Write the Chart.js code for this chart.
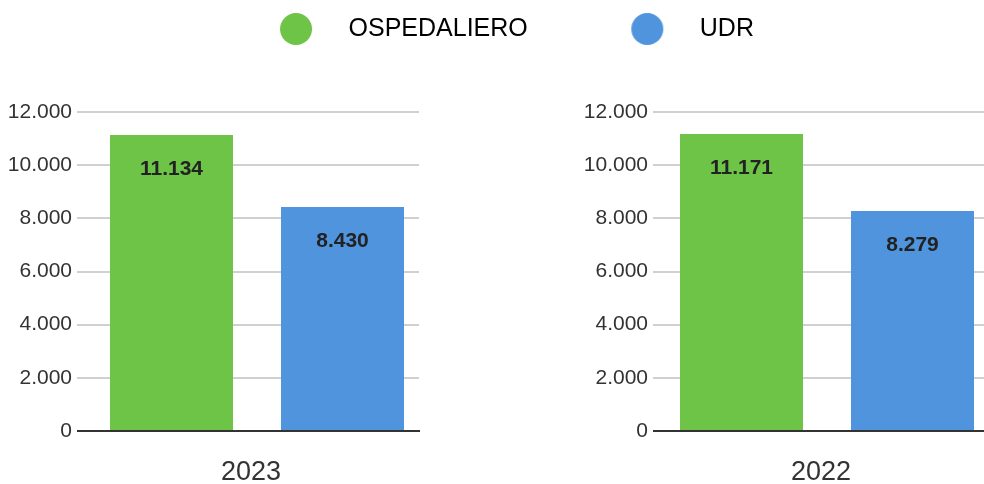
<!DOCTYPE html>
<html>
<head>
<meta charset="utf-8">
<script src="https://cdn.jsdelivr.net/npm/chart.js@4.4.1/dist/chart.umd.min.js"></script>
<style>
html,body{margin:0;padding:0;background:#fff;}
#wrap{position:relative;width:984px;height:484px;overflow:hidden;background:#fff;}
canvas{position:absolute;display:block;}
#c2023{left:0;top:0;}
#c2022{left:574px;top:0;}
#leg{left:0;top:-63px;pointer-events:none;}
</style>
</head>
<body>
<div id="wrap">
  <canvas id="c2023" width="429" height="484"></canvas>
  <canvas id="c2022" width="410" height="484"></canvas>
  <canvas id="leg" width="984" height="260"></canvas>
</div>
<script>
// ---- data ----
const seriesNames = ['OSPEDALIERO', 'UDR'];
const years = ['2023', '2022'];
const ospedaliero = [11134, 11171];
const udr = [8430, 8279];
const yTickValues = [0, 2000, 4000, 6000, 8000, 10000, 12000];
const yTickLabels = ['0', '2.000', '4.000', '6.000', '8.000', '10.000', '12.000'];

// ---- styles ----
const colors = ['#6dc447', '#4f94dc'];
const FONT = '"Liberation Sans", Arial, Helvetica, sans-serif';
Chart.defaults.font.family = FONT;

function fmt(v) {
  return String(v).replace(/\B(?=(\d{3})+(?!\d))/g, '.');
}

const valueLabels = {
  id: 'valueLabels',
  afterDatasetsDraw(chart) {
    const ctx = chart.ctx;
    ctx.save();
    ctx.font = 'bold 21px ' + FONT;
    ctx.fillStyle = '#222';
    ctx.textAlign = 'center';
    ctx.textBaseline = 'middle';
    chart.data.datasets.forEach((ds, i) => {
      chart.getDatasetMeta(i).data.forEach((el, j) => {
        ctx.fillText(fmt(ds.data[j]), el.x, el.y + 34);
      });
    });
    ctx.restore();
  }
};

function makeBar(id, idx, p) {
  return new Chart(document.getElementById(id), {
    type: 'bar',
    data: {
      labels: [years[idx]],
      datasets: [
        { label: seriesNames[0], data: [ospedaliero[idx]], backgroundColor: colors[0] },
        { label: seriesNames[1], data: [udr[idx]], backgroundColor: colors[1] }
      ]
    },
    options: {
      responsive: false,
      animation: false,
      devicePixelRatio: 1,
      categoryPercentage: p.cat,
      barPercentage: 0.7193,
      layout: { padding: { top: 112, left: 0, right: p.padRight, bottom: 0 } },
      plugins: { legend: { display: false }, tooltip: { enabled: false } },
      scales: {
        x: {
          z: 1,
          grid: { display: false, drawTicks: false },
          border: { display: true, color: '#333', width: 2 },
          ticks: { font: { size: 27 }, color: '#333', padding: 25, labelOffset: -6 },
          afterFit(s) { s.height = 53; }
        },
        y: {
          min: 0, max: 12000,
          afterBuildTicks(s) { s.ticks = yTickValues.map(v => ({ value: v })); },
          ticks: {
            font: { size: 21 }, color: '#333', padding: 5,
            callback: (v, i) => yTickLabels[i]
          },
          grid: {
            color: c => (c.tick && c.tick.value === 0) ? '#333' : '#d0d0d0',
            lineWidth: 2,
            tickLength: p.tick
          },
          border: { display: false },
          afterFit(s) { s.width = p.axisW; }
        }
      }
    },
    plugins: [valueLabels]
  });
}

makeBar('c2023', 0, { cat: 342 / 324, padRight: 10, axisW: 95, tick: 18 });
makeBar('c2022', 1, { cat: 342 / 314, padRight: 0, axisW: 96, tick: 17 });

// ---- legend ----
function dot(color) {
  const c = document.createElement('canvas');
  c.width = 80; c.height = 34;
  const g = c.getContext('2d');
  g.fillStyle = color;
  g.beginPath();
  g.arc(40, 17, 16, 0, Math.PI * 2);
  g.fill();
  return c;
}
const dots = colors.map(dot);

new Chart(document.getElementById('leg'), {
  type: 'bar',
  data: {
    labels: [],
    datasets: seriesNames.map((n, i) => ({ label: n, data: [], backgroundColor: colors[i] }))
  },
  options: {
    responsive: false,
    animation: false,
    devicePixelRatio: 1,
    layout: { padding: { left: 26, top: 0, right: 0, bottom: 0 } },
    scales: { x: { display: false }, y: { display: false } },
    plugins: {
      tooltip: { enabled: false },
      legend: {
        display: true,
        position: 'top',
        onClick: null,
        labels: {
          font: { size: 25 },
          color: '#222',
          padding: 79.5,
          usePointStyle: true,
          pointStyleWidth: 80,
          generateLabels: (chart) => chart.data.datasets.map((ds, i) => ({
            text: ds.label,
            fillStyle: colors[i],
            strokeStyle: colors[i],
            lineWidth: 0,
            pointStyle: dots[i],
            hidden: false,
            datasetIndex: i
          }))
        }
      }
    }
  }
});
</script>
</body>
</html>
